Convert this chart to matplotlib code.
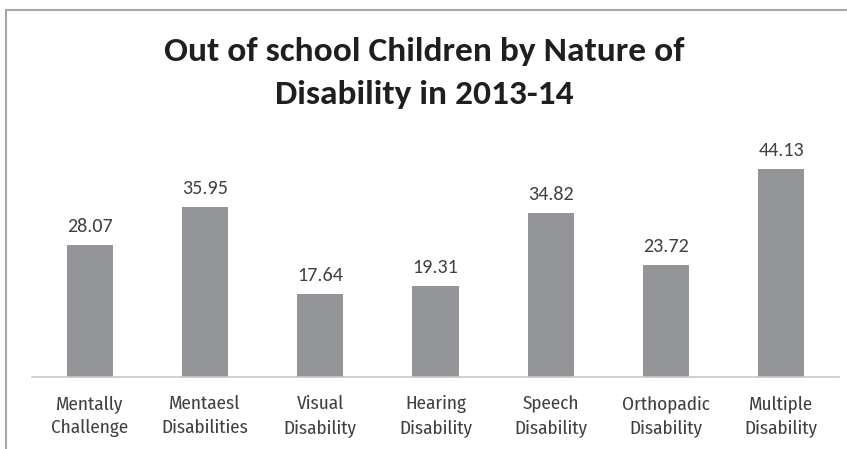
import matplotlib
matplotlib.use("Agg")
import matplotlib.pyplot as plt
from matplotlib.lines import Line2D
from matplotlib import font_manager

categories = ["Mentally\nChallenge", "Mentaesl\nDisabilities", "Visual\nDisability",
              "Hearing\nDisability", "Speech\nDisability", "Orthopadic\nDisability",
              "Multiple\nDisability"]
values = [28.07, 35.95, 17.64, 19.31, 34.82, 23.72, 44.13]
value_labels = ["28.07", "35.95", "17.64", "19.31", "34.82", "23.72", "44.13"]
title_lines = ["Out of school Children by Nature of", "Disability in 2013-14"]

available = {f.name for f in font_manager.fontManager.ttflist}


def pick(cands):
    for c in cands:
        if c in available:
            return c
    return "DejaVu Sans"


main_font = pick(["Carlito", "Lato", "Open Sans"])
tick_font = pick(["Fira Sans Condensed", "Encode Sans Condensed", "PT Sans Narrow",
                  "Open Sans Condensed", "Roboto Condensed", "Asap Condensed",
                  "IBM Plex Sans Condensed", "Archivo Narrow", "Liberation Sans Narrow",
                  main_font])
plt.rcParams['font.family'] = [main_font, 'DejaVu Sans']

W, H = 847, 449
fig = plt.figure(figsize=(W / 100, H / 100), dpi=100)
fig.patch.set_facecolor("white")
renderer = fig.canvas.get_renderer()


def width_at(text, family, size, weight="normal"):
    t = fig.text(0, 0, text, fontsize=size, family=family, fontweight=weight)
    w = t.get_window_extent(renderer).width
    t.remove()
    return w


def fit(text, family, target_px, weight="normal"):
    return 20 * target_px / width_at(text, family, 20, weight)


def line_step(family, size):
    t1 = fig.text(0, 0, "A", fontsize=size, family=family, linespacing=1.0)
    t2 = fig.text(0, 0, "A\nA", fontsize=size, family=family, linespacing=1.0)
    d = t2.get_window_extent(renderer).height - t1.get_window_extent(renderer).height
    t1.remove()
    t2.remove()
    return d


title_size = fit(title_lines[0], main_font, 520, "bold")
value_size = fit("28.07", main_font, 46)
tick_size = fit("Disabilities", tick_font, 87)
tick_ls = 25 / line_step(tick_font, tick_size)

# chart border (partially cropped in reference)
border_color = "#a6a6a6"
fig.add_artist(Line2D([6 / W, 6 / W], [0, 1 - 10 / H], transform=fig.transFigure,
                      color=border_color, lw=1.5))
fig.add_artist(Line2D([6 / W, 1], [1 - 10 / H, 1 - 10 / H], transform=fig.transFigure,
                      color=border_color, lw=1.5))

ax = fig.add_axes([32 / W, (H - 377) / H, 807 / W, 236 / H])
x = list(range(len(categories)))
ax.bar(x, values, width=0.4, color="#939598", zorder=2)
ax.set_xlim(-0.5, len(categories) - 0.5)
ax.set_ylim(0, 50)

for xi, v, lab in zip(x, values, value_labels):
    ax.annotate(lab, (xi, v), xytext=(0, 13 * 0.72), textcoords="offset points",
                ha="center", va="baseline", fontsize=value_size, color="#404040")

ax.set_xticks(x)
ax.set_xticklabels(categories, fontsize=tick_size, color="#404040", linespacing=tick_ls,
                   family=[tick_font, 'DejaVu Sans'], fontweight="normal")
ax.tick_params(axis="x", length=0, pad=13)
ax.set_yticks([])
for s in ["top", "right", "left"]:
    ax.spines[s].set_visible(False)
ax.spines["bottom"].set_color("#c8c8c8")
ax.spines["bottom"].set_linewidth(1.2)

fig.text(424 / W, 1 - 61 / H, title_lines[0], ha="center", va="baseline",
         fontsize=title_size, fontweight="bold", color="#1f1f1f")
fig.text(424 / W, 1 - 104 / H, title_lines[1], ha="center", va="baseline",
         fontsize=title_size, fontweight="bold", color="#1f1f1f")

fig.savefig("out.png", dpi=100)
